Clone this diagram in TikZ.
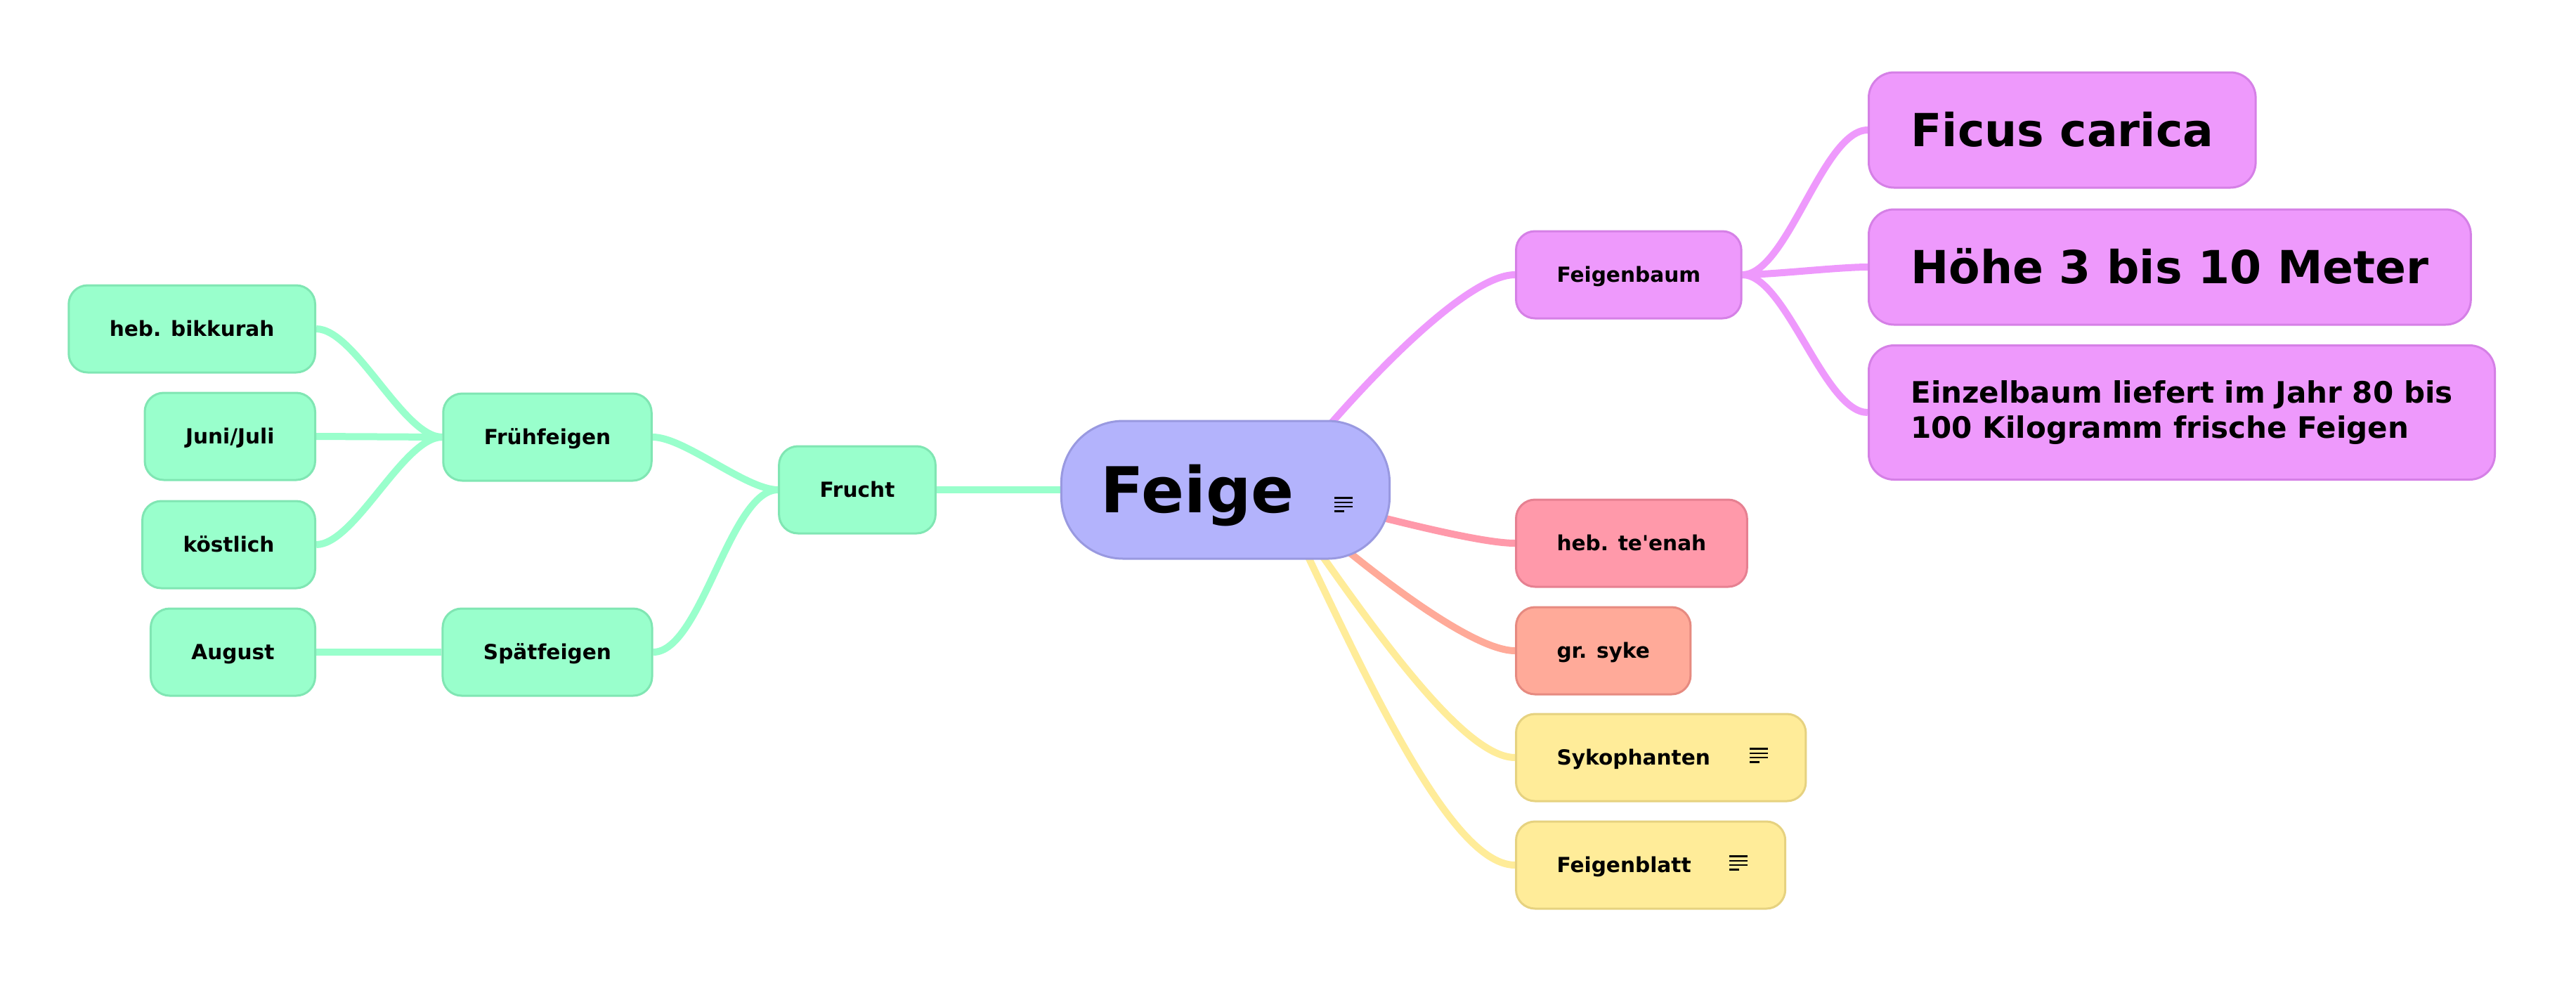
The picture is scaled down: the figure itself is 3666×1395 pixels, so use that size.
\documentclass[tikz,border=0pt]{standalone}
\usepackage{fontspec}
\setmainfont{DejaVu Sans}
\usetikzlibrary{calc,positioning}
\pgfdeclarelayer{background}
\pgfsetlayers{background,main}
\definecolor{rootfill}{HTML}{B3B3FC}
\definecolor{rootdraw}{HTML}{9999E0}
\definecolor{treefill}{HTML}{EE99FC}
\definecolor{treedraw}{HTML}{D580E6}
\definecolor{fruitfill}{HTML}{99FFCC}
\definecolor{fruitdraw}{HTML}{80E6B3}
\definecolor{hebfill}{HTML}{FF99AA}
\definecolor{hebdraw}{HTML}{E68091}
\definecolor{grfill}{HTML}{FFAA99}
\definecolor{grdraw}{HTML}{E68A80}
\definecolor{wordfill}{HTML}{FFEC99}
\definecolor{worddraw}{HTML}{E6D280}

\begin{document}
\begin{tikzpicture}[x=.25pt,y=-.25pt,
		box/.style={draw, line width=.75pt, rounded corners=6.75pt, minimum height=31pt,
			inner xsep=14.5pt, inner ysep=0pt, text height=5.4pt, text depth=0pt,
			font=\bfseries\fontsize{7.4}{9}\selectfont}
		,bigbox/.style={box, rounded corners=9pt, minimum height=41pt, inner xsep=15pt,
			text height=11.8pt, font=\bfseries\fontsize{16.2}{20}\selectfont}
		,fruit/.style={fill=fruitfill, draw=fruitdraw}
		,tree/.style={fill=treefill, draw=treedraw}
		,word/.style={fill=wordfill, draw=worddraw}
		,branch/.style={line width=2.5pt}
		,note/.pic={\draw[line width=.6pt] (-26,-9.5) -- (0,-9.5) (-26,-3.2) -- (0,-3.2)
			(-26,3.2) -- (0,3.2) (-26,9.5) -- (-12,9.5);}
		]
	\useasboundingbox (0,0) rectangle (3666,1395);
	
	\node[box, fill=rootfill, draw=rootdraw, rounded corners=22pt, minimum height=49pt, inner xsep=14pt,
		text height=16.4pt, font=\bfseries\fontsize{22.5}{27}\selectfont] (feige) at (1744,697) {Feige\hspace{20pt}\null};
	\pic at ($(feige.east)+(-54,21)$) {note};
	\coordinate (hub) at ($(feige.center)+(72,0)$);
	
	\node[box,fruit] (frucht) at (1220,697) {Frucht};
	\node[box,fruit] (frueh) at (779,622) {Frühfeigen};
	\node[box,fruit] (spaet) at (779,928) {Spätfeigen};
	\node[box,fruit,anchor=east] (bikk) at (450,468) {heb. bikkurah};
	\node[box,fruit,anchor=east] (juni) at (450,621) {Juni/Juli};
	\node[box,fruit,anchor=east] (koest) at (450,775) {köstlich};
	\node[box,fruit,anchor=east] (aug) at (450,928) {August};
	
	\node[box,tree,anchor=west] (baum) at (2156,391) {Feigenbaum};
	\node[bigbox,tree,anchor=west] (ficus) at (2658,185) {Ficus carica};
	\node[bigbox,tree,anchor=west] (hoehe) at (2658,380) {Höhe 3 bis 10 Meter};
	\node[bigbox,tree,anchor=west,minimum height=47.75pt,align=left,text height={},text depth={},
		font=\bfseries\fontsize{10.5}{12.5}\selectfont] (einzel) at (2658,587)
		{Einzelbaum liefert im Jahr 80 bis\\100 Kilogramm frische Feigen};
	\node[box,fill=hebfill,draw=hebdraw,anchor=west] (teenah) at (2156,773) {heb. te\textquotesingle enah};
	\node[box,fill=grfill,draw=grdraw,anchor=west] (syke) at (2156,926) {gr. syke};
	\node[box,word,anchor=west] (syko) at (2156,1078) {Sykophanten\hspace{19.5pt}\null};
	\pic at ($(syko.east)+(-55,-3)$) {note};
	\node[box,word,anchor=west] (blatt) at (2156,1231) {Feigenblatt\hspace{19pt}\null};
	\pic at ($(blatt.east)+(-55,-3)$) {note};
	
	\begin{pgfonlayer}{background}
		\draw[branch,fruitfill] (frucht.east) -- (feige.west);
		\draw[branch,fruitfill] (frucht.west) to[out=180,in=0,looseness=.6] (frueh.east);
		\draw[branch,fruitfill] (frucht.west) to[out=180,in=0,looseness=.6] (spaet.east);
		\draw[branch,fruitfill] (frueh.west) to[out=180,in=0,looseness=.6] (bikk.east);
		\draw[branch,fruitfill] (frueh.west) -- (juni.east);
		\draw[branch,fruitfill] (frueh.west) to[out=180,in=0,looseness=.6] (koest.east);
		\draw[branch,fruitfill] (spaet.west) -- (aug.east);
		\draw[branch,treefill] (hub) to[out=52,in=180,in looseness=.4] (baum.west);
		\draw[branch,treefill] (baum.east) to[out=0,in=180,looseness=.6] (ficus.west);
		\draw[branch,treefill] (baum.east) to[out=0,in=180,looseness=.6] (hoehe.west);
		\draw[branch,treefill] (baum.east) to[out=0,in=180,looseness=.6] (einzel.west);
		\draw[branch,hebfill] (hub) to[out=-15,in=180,in looseness=.4] (teenah.west);
		\draw[branch,grfill] (hub) to[out=-42,in=180,in looseness=.4] (syke.west);
		\draw[branch,wordfill] (hub) to[out=-55,in=180,in looseness=.4] (syko.west);
		\draw[branch,wordfill] (hub) to[out=-64,in=180,in looseness=.4] (blatt.west);
	\end{pgfonlayer}
\end{tikzpicture}
\end{document}
